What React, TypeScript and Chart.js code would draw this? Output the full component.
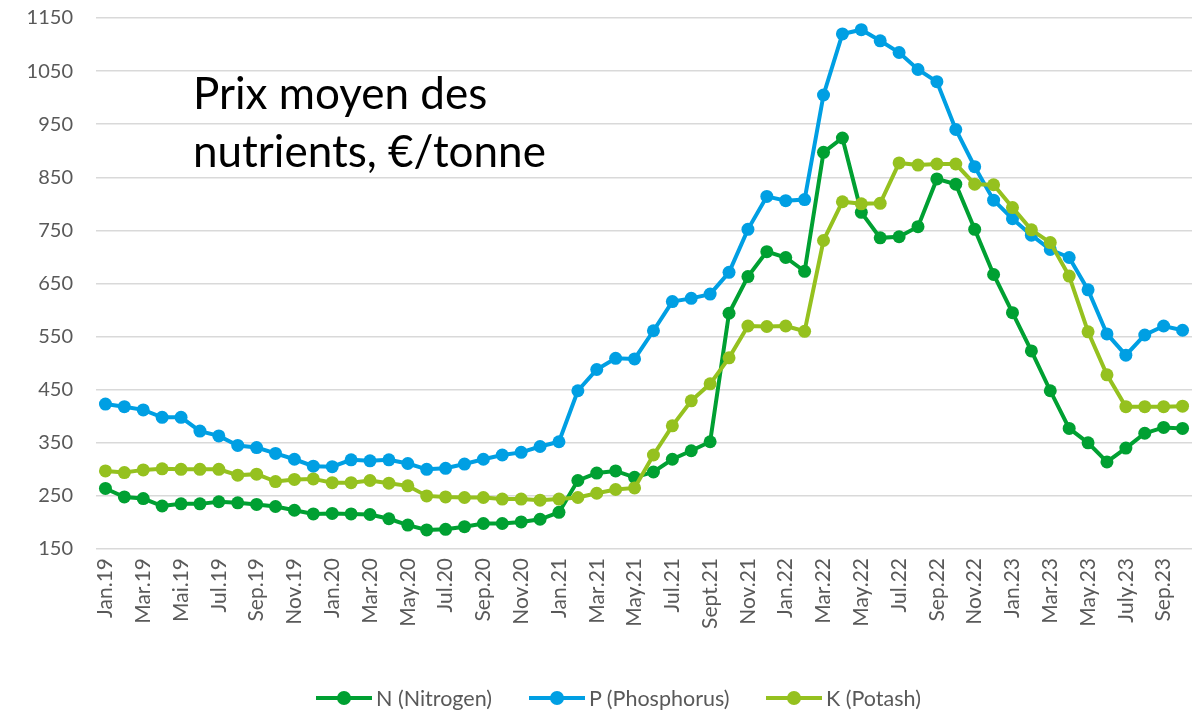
import React, { useEffect, useRef } from "react";
import { Chart, registerables } from "chart.js";

Chart.register(...registerables);

const months = [
  "Jan.19", "Feb.19", "Mar.19", "Apr.19", "Mai.19", "Jun.19", "Jul.19", "Aug.19", "Sep.19", "Oct.19", "Nov.19", "Dec.19",
  "Jan.20", "Feb.20", "Mar.20", "Apr.20", "May.20", "Jun.20", "Jul.20", "Aug.20", "Sep.20", "Oct.20", "Nov.20", "Dec.20",
  "Jan.21", "Feb.21", "Mar.21", "Apr.21", "May.21", "Jun.21", "Jul.21", "Aug.21", "Sept.21", "Oct.21", "Nov.21", "Dec.21",
  "Jan.22", "Feb.22", "Mar.22", "Apr.22", "May.22", "Jun.22", "Jul.22", "Aug.22", "Sep.22", "Oct.22", "Nov.22", "Dec.22",
  "Jan.23", "Feb.23", "Mar.23", "Apr.23", "May.23", "Jun.23", "July.23", "Aug.23", "Sep.23", "Oct.23",
];

const nitrogen = [
  264, 248, 245, 231, 235, 235, 239, 237, 234, 230, 223, 216,
  217, 216, 215, 207, 195, 186, 187, 192, 198, 198, 201, 206,
  219, 279, 293, 297, 285, 295, 319, 335, 352, 594, 663, 710,
  699, 673, 897, 924, 784, 736, 738, 757, 847, 837, 752, 667,
  595, 523, 448, 377, 350, 314, 340, 368, 379, 377,
];

const phosphorus = [
  423, 418, 412, 398, 398, 372, 363, 345, 341, 330, 319, 306,
  305, 318, 316, 318, 311, 300, 302, 310, 319, 327, 332, 343,
  352, 448, 488, 509, 508, 561, 616, 622, 630, 671, 752, 814,
  806, 808, 1005, 1120, 1128, 1107, 1085, 1053, 1030, 940, 870, 807,
  772, 741, 714, 699, 638, 555, 515, 553, 570, 562,
];

const potash = [
  297, 294, 299, 301, 300, 300, 300, 289, 291, 277, 281, 282,
  275, 275, 279, 274, 269, 250, 248, 247, 247, 244, 244, 242,
  244, 247, 255, 262, 265, 327, 382, 429, 461, 510, 570, 569,
  570, 560, 731, 804, 800, 801, 877, 873, 875, 875, 837, 836,
  793, 751, 727, 664, 559, 478, 418, 418, 418, 419,
];

const seriesNames = ["N (Nitrogen)", "P (Phosphorus)", "K (Potash)"];
const seriesColors = ["#00A032", "#009FE3", "#95C11F"];

const titleLines = ["Prix moyen des", "nutrients, €/tonne"];

const FONT = "Lato, 'Open Sans', sans-serif";

export default function App() {
  const canvasRef = useRef<HTMLCanvasElement | null>(null);

  useEffect(() => {
    if (!canvasRef.current) return;
    const mk = (label: string, data: number[], color: string, order: number) => ({
      label,
      data,
      borderColor: color,
      backgroundColor: color,
      pointBackgroundColor: color,
      pointBorderColor: color,
      borderWidth: 4,
      pointRadius: 6.5,
      pointHoverRadius: 6.5,
      pointBorderWidth: 0,
      tension: 0,
      order,
    });
    const chart = new Chart(canvasRef.current, {
      type: "line",
      data: {
        labels: months,
        datasets: [
          mk(seriesNames[0], nitrogen, seriesColors[0], 3),
          mk(seriesNames[1], phosphorus, seriesColors[1], 2),
          mk(seriesNames[2], potash, seriesColors[2], 1),
        ],
      },
      options: {
        animation: false,
        responsive: false,
        maintainAspectRatio: false,
        layout: { padding: { left: 0, right: 8, top: 18, bottom: 0 } },
        plugins: {
          legend: { display: false },
          tooltip: { enabled: false },
          title: { display: false },
        },
        scales: {
          x: {
            type: "category",
            offset: true,
            grid: { display: false, drawTicks: false },
            border: { display: false },
            ticks: {
              autoSkip: false,
              maxRotation: 90,
              minRotation: 90,
              padding: 9,
              color: "#595959",
              font: { family: FONT, size: 21 },
              callback: (_v: any, i: number) => (i % 2 === 0 ? months[i] : ""),
            },
            afterFit: (scale: any) => {
              scale.height = 162;
              scale.paddingLeft = 0;
              scale.paddingRight = 0;
            },
          },
          y: {
            min: 150,
            max: 1150,
            grid: { color: "#D9D9D9", lineWidth: 1.5, drawTicks: false },
            border: { display: false },
            ticks: {
              stepSize: 100,
              padding: 23,
              color: "#595959",
              font: { family: FONT, size: 20 },
              callback: (v: any) => String(v),
            },
            afterFit: (scale: any) => {
              scale.width = 96;
              scale.paddingTop = 0;
              scale.paddingBottom = 0;
            },
          },
        },
      },
    });
    return () => chart.destroy();
  }, []);

  const legendLefts = [316, 529, 766];

  return (
    <div style={{ position: "absolute", left: 0, top: 0, width: 1200, height: 711, background: "#fff", overflow: "hidden" }}>
      <canvas ref={canvasRef} width={1200} height={711} style={{ position: "absolute", left: 0, top: 0, width: 1200, height: 711 }} />
      <div
        style={{
          position: "absolute",
          left: 193,
          top: 63,
          fontFamily: FONT,
          fontSize: 44,
          lineHeight: "58px",
          color: "#000",
          whiteSpace: "nowrap",
        }}
      >
        {titleLines.map((t) => (
          <div key={t}>{t}</div>
        ))}
      </div>
      {seriesNames.map((name, i) => (
        <div
          key={name}
          style={{
            position: "absolute",
            left: legendLefts[i],
            top: 698 - 14,
            height: 28,
            display: "flex",
            alignItems: "center",
            fontFamily: FONT,
            fontSize: 21.5,
            color: "#595959",
            whiteSpace: "nowrap",
          }}
        >
          <div style={{ position: "relative", width: 56, height: 28, marginRight: 4 }}>
            <div style={{ position: "absolute", left: 0, top: 12, width: 56, height: 4, background: seriesColors[i] }} />
            <div style={{ position: "absolute", left: 21, top: 7, width: 14, height: 14, borderRadius: 7, background: seriesColors[i] }} />
          </div>
          <span>{name}</span>
        </div>
      ))}
    </div>
  );
}
